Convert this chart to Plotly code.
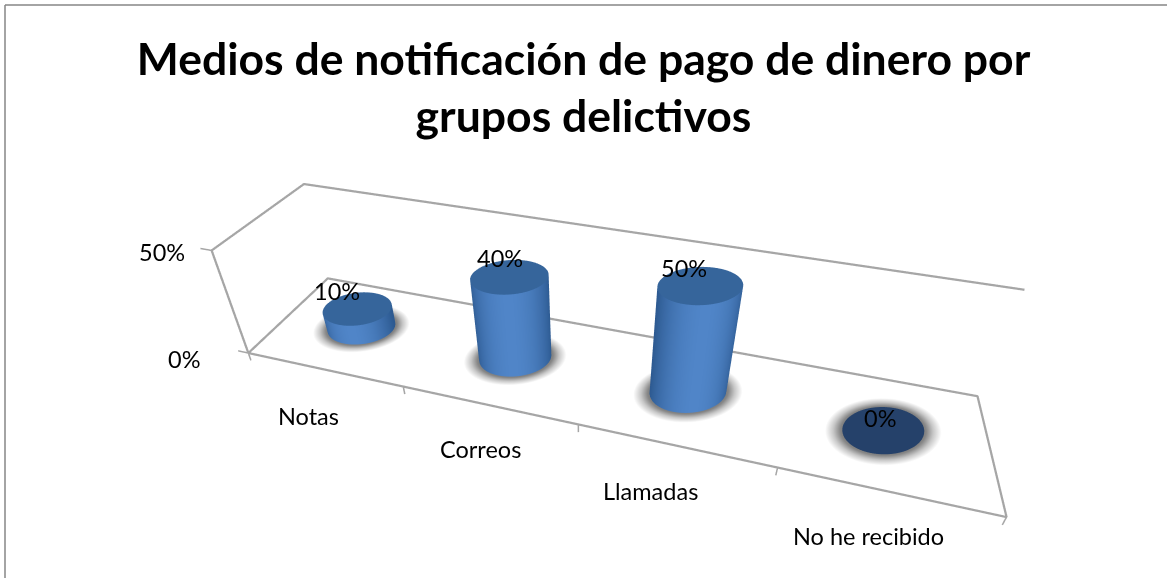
import numpy as np
import plotly.graph_objects as go

TITLE_LINES = ["Medios de notificación de pago de dinero por", "grupos delictivos"]
categories = ["Notas", "Correos", "Llamadas", "No he recibido"]
values = [10, 40, 50, 0]
value_labels = ["10%", "40%", "50%", "0%"]
z_ticks = [0, 50]
z_tick_labels = ["0%", "50%"]

W, H = 1167, 578
FONT = "Lato, Carlito, Calibri, sans-serif"
GRID = "#a6a6a6"
BOX = dict(x=2.0, y=0.4036, z=0.3494)
EYE = dict(x=0.3727, y=-1.4167, z=1.1358)
CENTER = dict(x=-0.05722, y=0.03906, z=0.07697)
X_MAX = len(categories)
zt = max(z_ticks)
X_PAD, Y_PAD, Z_PAD = 0.1, 0.05, 5
ASPECT = dict(x=BOX["x"] * (X_MAX + 2 * X_PAD) / X_MAX,
              y=BOX["y"] * (1 + 2 * Y_PAD),
              z=BOX["z"] * (zt + 2 * Z_PAD) / zt)
WORLD_R = 0.1
RX = WORLD_R * X_MAX / BOX["x"]
RY = 0.85 * WORLD_R / BOX["y"]
view_dir = np.arctan2(EYE["y"], EYE["x"])
N = 72
ang = np.linspace(0, 2 * np.pi, N, endpoint=False)
FLAT = dict(ambient=1, diffuse=0, specular=0, fresnel=0)
VALUE_SHIFT = [(-20, 18), (-10, 19), (-16, 17), (-3, 12)]
CAT_SHIFT = [(-15, -47), (-8, -44), (-24, -46), (-19, -45)]
ZTICK_SHIFT = [(-46, -6), (-25, -2)]


def rgb(c):
    return "rgb(%d,%d,%d)" % tuple(np.round(c))


def mix(c1, c2, t):
    return rgb(np.array(c1) + (np.array(c2) - np.array(c1)) * t)


def ring(cx, m=1.0):
    skew = 0.05 + 0.09 * cx
    return cx + m * RX * np.cos(ang), 0.5 + m * RY * (np.sin(ang) + skew * np.cos(ang))


def cylinder(cx, value):
    xr, yr = ring(cx)
    traces = []
    if value > 0:
        x = np.r_[xr, xr]
        y = np.r_[yr, yr]
        z = np.r_[np.zeros(N), np.full(N, value)]
        facing = np.clip(np.cos(ang - view_dir), 0, 1)
        shade = [mix((45, 90, 145), (80, 133, 200), f ** 1.5) for f in facing]
        i, j, k = [], [], []
        for a in range(N):
            b = (a + 1) % N
            i += [a, b]
            j += [b, b + N]
            k += [a + N, a + N]
        traces.append(go.Mesh3d(x=x, y=y, z=z, i=i, j=j, k=k, vertexcolor=shade + shade,
                                lighting=FLAT, hoverinfo="skip", showlegend=False))
    top_col = "#36659b" if value > 0 else "#25416a"
    lift = value if value > 0 else 0.05
    traces.append(go.Mesh3d(x=np.r_[cx, xr], y=np.r_[0.5, yr], z=np.full(N + 1, lift),
                            i=[0] * N, j=list(range(1, N + 1)), k=[(a + 1) % N + 1 for a in range(N)],
                            color=top_col, lighting=FLAT, hoverinfo="skip", showlegend=False))
    return traces


def shadow(cx):
    rings = [(0.9, (110, 110, 110)), (1.05, (135, 135, 135)), (1.22, (200, 200, 200)), (1.42, (255, 255, 255))]
    xs, ys, cs = [], [], []
    for m, c in rings:
        rx_, ry_ = ring(cx, m)
        xs.append(rx_)
        ys.append(ry_)
        cs += [rgb(c)] * N
    i, j, k = [], [], []
    for r in range(len(rings) - 1):
        for a in range(N):
            b = (a + 1) % N
            p, q, s, t = r * N + a, r * N + b, (r + 1) * N + a, (r + 1) * N + b
            i += [p, q]
            j += [q, t]
            k += [s, s]
    return go.Mesh3d(x=np.concatenate(xs), y=np.concatenate(ys), z=np.full(N * len(rings), -0.05),
                     i=i, j=j, k=k, vertexcolor=cs, lighting=FLAT, hoverinfo="skip", showlegend=False)


fig = go.Figure()
fig.add_trace(go.Scatter3d(
    x=[X_MAX, 0, 0, 0, X_MAX, X_MAX, 0, 0], y=[1, 1, 0, 0, 0, 1, 1, 0], z=[zt, zt, zt, 0, 0, 0, 0, 0],
    mode="lines", line=dict(color=GRID, width=4.5), hoverinfo="skip", showlegend=False))
for t in z_ticks:
    fig.add_trace(go.Scatter3d(x=[0, -0.07], y=[0, 0], z=[t, t], mode="lines",
                               line=dict(color=GRID, width=3), hoverinfo="skip", showlegend=False))
for c in range(X_MAX + 1):
    fig.add_trace(go.Scatter3d(x=[c, c], y=[0, 0], z=[0, -4], mode="lines",
                               line=dict(color=GRID, width=3), hoverinfo="skip", showlegend=False))
font = dict(family=FONT, size=23.5, color="#000000")
annots = []
for idx, (v, lab, cat) in enumerate(zip(values, value_labels, categories)):
    cx = idx + 0.5
    fig.add_trace(shadow(cx))
    for tr in cylinder(cx, v):
        fig.add_trace(tr)
    annots.append(dict(x=cx, y=0.5, z=v, text=lab, showarrow=False, xshift=VALUE_SHIFT[idx][0],
                       yshift=VALUE_SHIFT[idx][1], font=font))
    annots.append(dict(x=cx, y=0, z=0, text=cat, showarrow=False, xshift=CAT_SHIFT[idx][0],
                       yshift=CAT_SHIFT[idx][1], font=font))
for t, lab, sh in zip(z_ticks, z_tick_labels, ZTICK_SHIFT):
    annots.append(dict(x=0, y=0, z=t, text=lab, showarrow=False, xanchor="right",
                       xshift=sh[0], yshift=sh[1], font=font))
hidden = dict(visible=False, showgrid=False, zeroline=False, showbackground=False, showspikes=False)
fig.update_layout(
    width=W, height=H, margin=dict(l=0, r=0, t=0, b=0), paper_bgcolor="white", showlegend=False,
    title=dict(text="<br>".join(TITLE_LINES),
               font=dict(family=FONT, size=44.5, color="#000000", weight="bold"),
               x=0.5, xanchor="center", y=0.871, yanchor="bottom", automargin=False),
    scene=dict(domain=dict(x=[0, 1], y=[0, 1]),
               xaxis=dict(range=[-X_PAD, X_MAX + X_PAD], **hidden),
               yaxis=dict(range=[-Y_PAD, 1 + Y_PAD], **hidden),
               zaxis=dict(range=[-Z_PAD, zt + Z_PAD], **hidden),
               aspectmode="manual", aspectratio=ASPECT,
               camera=dict(eye=EYE, center=CENTER, up=dict(x=0, y=0, z=1),
                           projection=dict(type="perspective")),
               annotations=annots),
    shapes=[dict(type="line", xref="paper", yref="paper", x0=5 / W, x1=1, y0=1 - 5 / H, y1=1 - 5 / H,
                 line=dict(color="#868686", width=1.5)),
            dict(type="line", xref="paper", yref="paper", x0=5 / W, x1=5 / W, y0=0, y1=1 - 5 / H,
                 line=dict(color="#868686", width=1.5))],
)
fig.write_html("out.html", config=dict(displayModeBar=False),
               post_script="document.body.style.margin='0';")
